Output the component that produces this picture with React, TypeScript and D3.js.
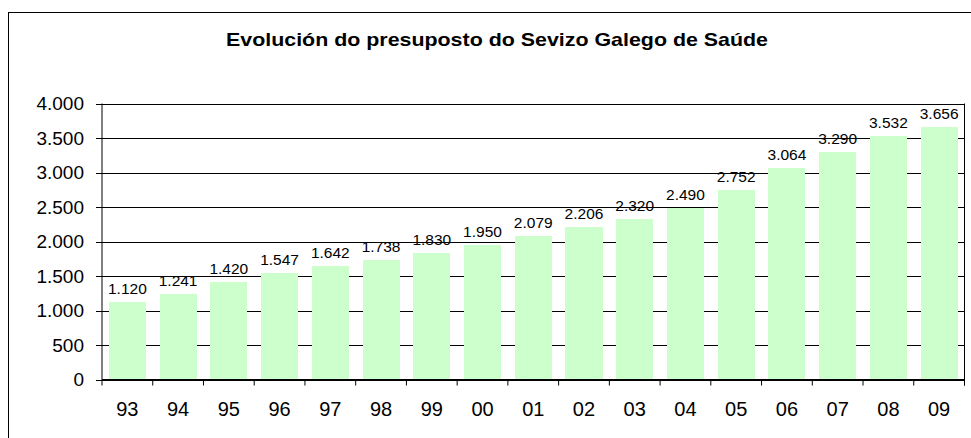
import React from "react";
import { scaleBand, scaleLinear, format } from "d3";

const years = ["93", "94", "95", "96", "97", "98", "99", "00", "01", "02", "03", "04", "05", "06", "07", "08", "09"];
const budget = [1120, 1241, 1420, 1547, 1642, 1738, 1830, 1950, 2079, 2206, 2320, 2490, 2752, 3064, 3290, 3532, 3656];
const yTicks = [0, 500, 1000, 1500, 2000, 2500, 3000, 3500, 4000];
const title = "Evolución do presuposto do Sevizo Galego de Saúde";

// European style thousands: 1.120
const fmt = (v: number) => format(",")(v).replace(/,/g, ".");

export default function App() {
  const width = 971;
  const height = 438;
  const left = 102;
  const right = 964.5;
  const top = 103.5;
  const bottom = 379.5;

  const x = scaleBand<string>()
    .domain(years)
    .range([left, right])
    .paddingInner(0.27)
    .paddingOuter(0.135);
  const xEdge = (i: number) => left + i * ((right - left) / years.length);

  const y = scaleLinear().domain([0, 4000]).range([bottom, top]);

  const font = "Arial, 'Liberation Sans', sans-serif";

  return (
    <svg
      width={width}
      height={height}
      style={{ position: "fixed", left: 0, top: 0, background: "#fff" }}
      fontFamily={font}
    >
      {/* outer chart frame, cropped on right and bottom */}
      <rect x={8.5} y={12.5} width={1100} height={1100} fill="none" stroke="#000" />

      <text
        x={497}
        y={46}
        textAnchor="middle"
        fontSize={18.5}
        fontWeight="bold"
        fill="#000"
        textLength={542}
        lengthAdjust="spacingAndGlyphs"
      >
        {title}
      </text>

      {/* gridlines + y labels */}
      {yTicks.map((t) => (
        <g key={t}>
          <line x1={left - 6} x2={right} y1={Math.round(y(t)) + 0.5} y2={Math.round(y(t)) + 0.5} stroke="#000" />
          <text x={84} y={y(t)} textAnchor="end" dominantBaseline="central" fontSize={19} fill="#000">
            {fmt(t)}
          </text>
        </g>
      ))}

      {/* bars */}
      {budget.map((v, i) => (
        <rect
          key={years[i]}
          x={x(years[i])}
          y={y(v)}
          width={x.bandwidth()}
          height={bottom - y(v)}
          fill="#ccffcc"
          shapeRendering="crispEdges"
        />
      ))}

      {/* value labels */}
      {budget.map((v, i) => (
        <text
          key={years[i]}
          x={(x(years[i]) as number) + x.bandwidth() / 2}
          y={y(v) - 8}
          textAnchor="middle"
          fontSize={15.5}
          fill="#000"
        >
          {fmt(v)}
        </text>
      ))}

      {/* axes */}
      <line x1={left} x2={left} y1={top} y2={bottom + 6} stroke="#000" />
      <line x1={right} x2={right} y1={top} y2={bottom + 6} stroke="#000" />
      <line x1={left} x2={right} y1={bottom} y2={bottom} stroke="#000" />
      {years.map((d, i) => (
        <line key={d} x1={xEdge(i + 1)} x2={xEdge(i + 1)} y1={bottom} y2={bottom + 6} stroke="#000" />
      ))}
      {years.map((d) => (
        <text
          key={d}
          x={(x(d) as number) + x.bandwidth() / 2}
          y={416}
          textAnchor="middle"
          fontSize={20}
          fill="#000"
        >
          {d}
        </text>
      ))}
    </svg>
  );
}
